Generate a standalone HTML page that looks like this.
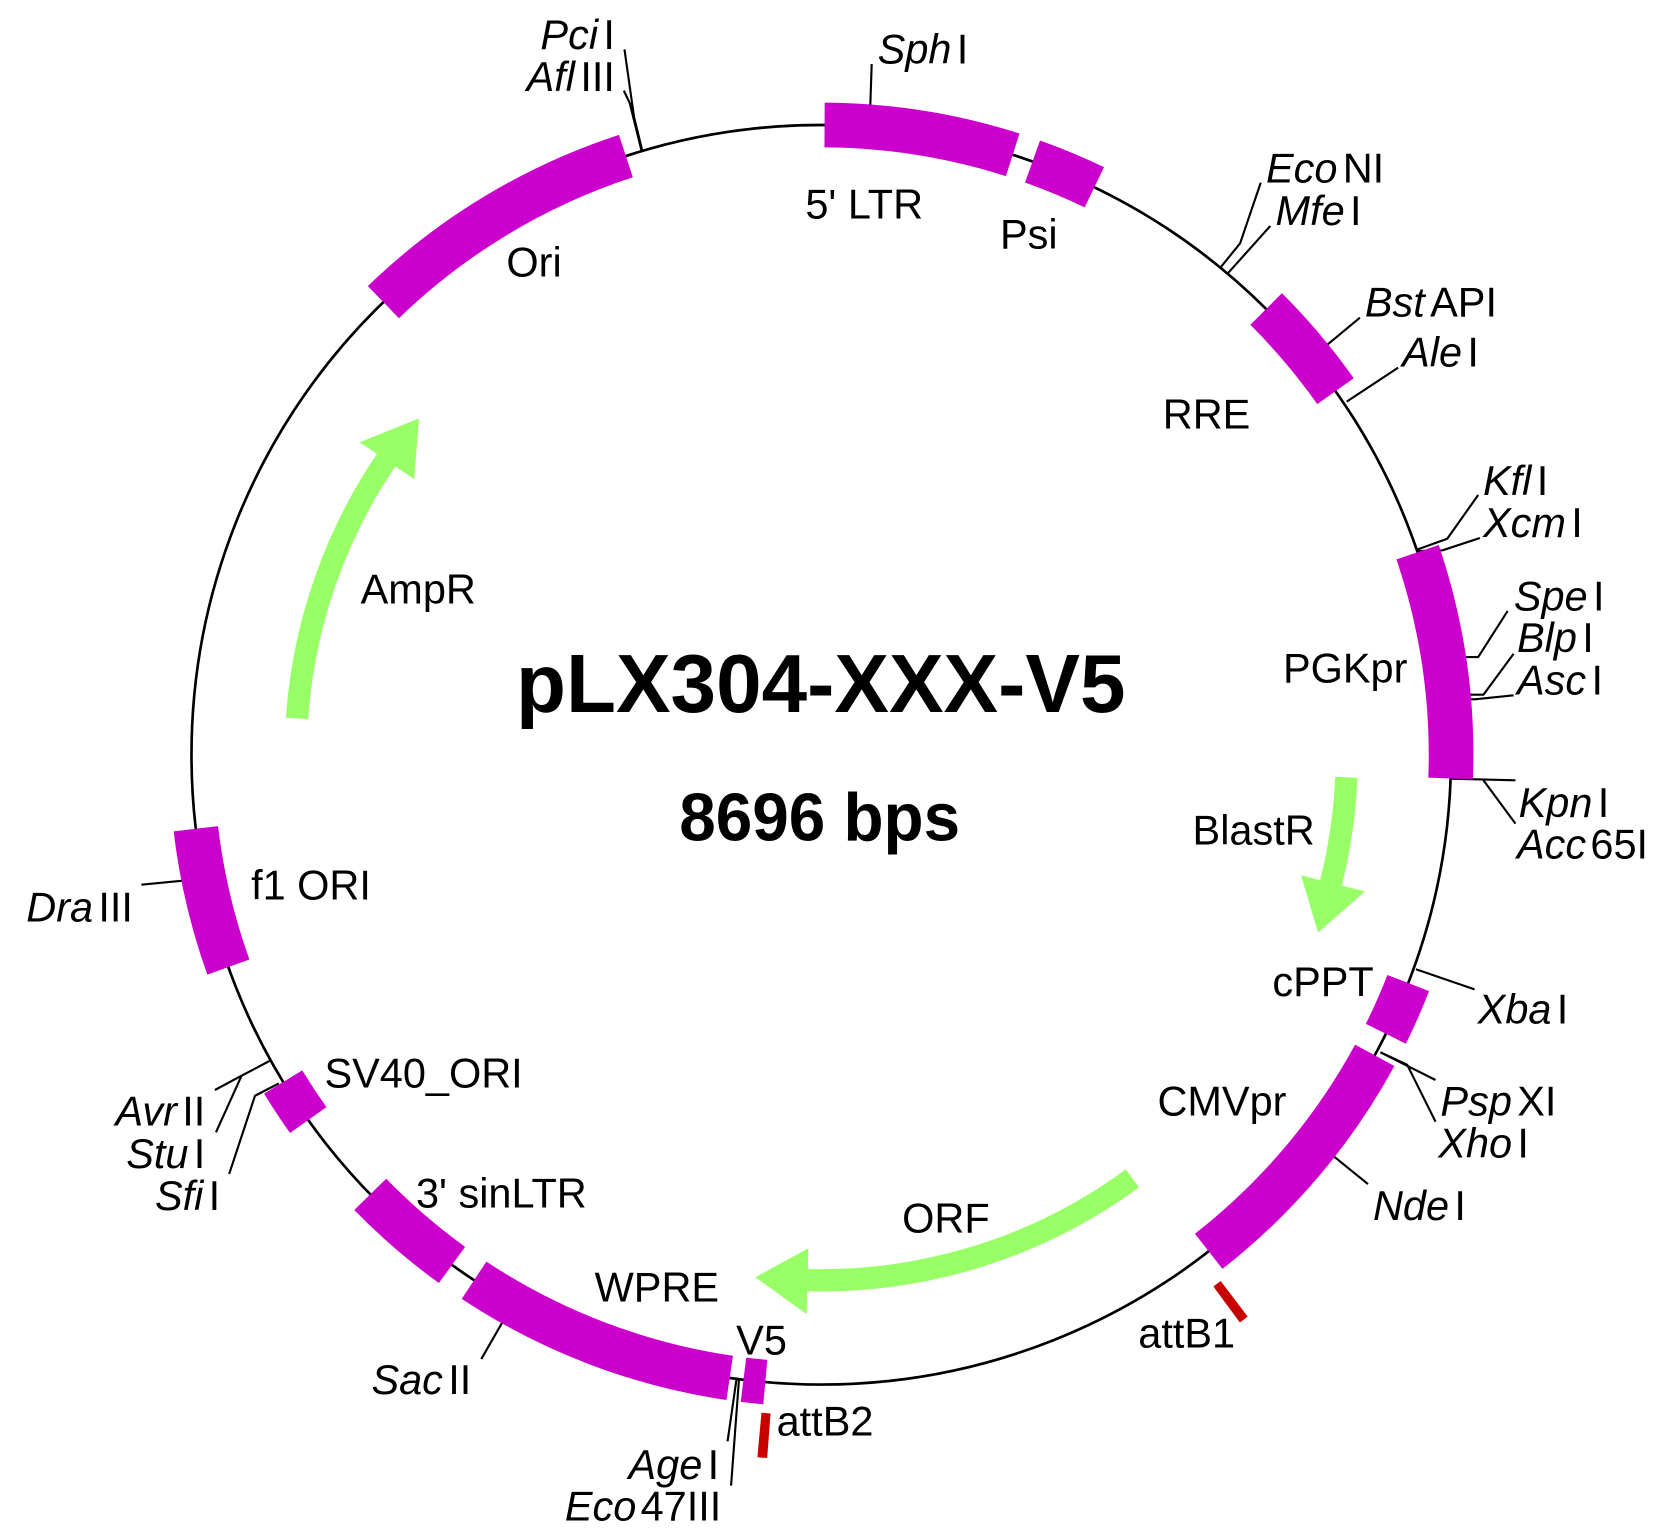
<!DOCTYPE html>
<html><head><meta charset="utf-8"><style>
html,body{margin:0;padding:0;background:#fff;width:1671px;height:1536px;overflow:hidden;position:relative;}
svg{display:block;position:absolute;left:0;top:0;}
text{font-family:"Liberation Sans",Arial,sans-serif;fill:#000;}
</style></head><body>
<svg width="1671" height="1536" viewBox="0 0 1570.74 1443.84" preserveAspectRatio="none" overflow="hidden" xmlns="http://www.w3.org/2000/svg">
<rect x="0" y="0" width="1570.74" height="1443.84" fill="#fff"/>

<!-- enzyme lines -->
<g stroke="#000" stroke-width="2" fill="none" stroke-linejoin="round">
<path d="M603.7,141.6 L596,110 L587,46.4"/>
<path d="M603,141.6 L592,97 L586.4,85.2"/>
<path d="M817.4,119 L819.4,60.2"/>
<path d="M1148,250.6 L1165.7,228.7 L1185.1,171.7"/>
<path d="M1154.7,256.3 L1194.1,212.4"/>
<path d="M1232,337 L1278.3,298.6"/>
<path d="M1265.9,377.5 L1314.3,345.6"/>
<path d="M1331.7,516.8 L1360.4,506.4 L1389.5,465.3"/>
<path d="M1333,518 L1356,517.3 L1391.1,505.7"/>
<path d="M1357,617.6 L1389.5,617.6 L1417.2,574.3"/>
<path d="M1361.3,653 L1394.5,653 L1422.8,614.5"/>
<path d="M1361.3,657 L1386.1,657.4 L1422.8,653.6"/>
<path d="M1363.6,732 L1424.5,733.5"/>
<path d="M1394.5,733.5 L1424.5,774.2"/>
<path d="M1331,911.1 L1386.1,930"/>
<path d="M1297.6,989.2 L1349.4,1015.2"/>
<path d="M1297.6,989.2 L1322.7,1000.8 L1349.4,1054.4"/>
<path d="M1238,1074.2 L1285.9,1113"/>
<path d="M481.6,1226.6 L452.4,1277.5"/>
<path d="M692.2,1297.2 L683.9,1354.9"/>
<path d="M694.6,1297.2 L687.2,1396.5"/>
<path d="M253.8,997.1 L227.1,1011.2 L202,1024.6"/>
<path d="M227.1,1011.2 L203,1064.4"/>
<path d="M262.1,1018.4 L239.7,1030 L215.4,1103.6"/>
<path d="M191.3,826 L132.9,831.6"/>
</g>

<!-- backbone -->
<circle cx="772" cy="709.5" r="592" fill="none" stroke="#000" stroke-width="2.5"/>

<!-- feature blocks -->
<g fill="none" stroke="#CC00CC" stroke-width="42">
<circle cx="772" cy="709.5" r="592" pathLength="360" stroke-dasharray="17.4 400" transform="rotate(-89.7 772 709.5)"/>
<circle cx="772" cy="709.5" r="592" pathLength="360" stroke-dasharray="6.1 400" transform="rotate(-70.4 772 709.5)"/>
<circle cx="772" cy="709.5" r="592" pathLength="360" stroke-dasharray="25.98 400" transform="rotate(225.95 772 709.5)"/>
<circle cx="772" cy="709.5" r="592" pathLength="360" stroke-dasharray="9.8 400" transform="rotate(-45.06 772 709.5)"/>
<circle cx="772" cy="709.5" r="592" pathLength="360" stroke-dasharray="20.92 400" transform="rotate(-18.76 772 709.5)"/>
<circle cx="772" cy="709.5" r="592" pathLength="360" stroke-dasharray="5.05 400" transform="rotate(21.25 772 709.5)"/>
<circle cx="772" cy="709.5" r="592" pathLength="360" stroke-dasharray="23.54 400" transform="rotate(28.5 772 709.5)"/>
<circle cx="772" cy="709.5" r="592" pathLength="360" stroke-dasharray="2.0 400" transform="rotate(95.1 772 709.5)"/>
<circle cx="772" cy="709.5" r="592" pathLength="360" stroke-dasharray="25.1 400" transform="rotate(98.36 772 709.5)"/>
<circle cx="772" cy="709.5" r="592" pathLength="360" stroke-dasharray="9.84 400" transform="rotate(125.9 772 709.5)"/>
<circle cx="772" cy="709.5" r="592" pathLength="360" stroke-dasharray="4.15 400" transform="rotate(144.55 772 709.5)"/>
<circle cx="772" cy="709.5" r="592" pathLength="360" stroke-dasharray="12.96 400" transform="rotate(160.3 772 709.5)"/>
</g>

<!-- attB sites -->
<g fill="none" stroke="#C80000" stroke-width="42">
<circle cx="772" cy="709.5" r="642" pathLength="360" stroke-dasharray="0.8 400" transform="rotate(52.8 772 709.5)"/>
<circle cx="772" cy="709.5" r="642" pathLength="360" stroke-dasharray="0.8 400" transform="rotate(94.4 772 709.5)"/>
</g>

<!-- green arrows -->
<g fill="none" stroke="#99FF66" stroke-width="21">
<circle cx="772" cy="709.5" r="494" pathLength="360" stroke-dasharray="30.5 400" transform="rotate(183.96 772 709.5)"/>
<circle cx="772" cy="709.5" r="494" pathLength="360" stroke-dasharray="12.0 400" transform="rotate(2.45 772 709.5)"/>
<circle cx="772" cy="709.5" r="494" pathLength="360" stroke-dasharray="38.1 400" transform="rotate(53.7 772 709.5)"/>
</g>
<g fill="#99FF66">
<polygon points="389.4,450.5 338.1,415.7 393.8,393.3"/>
<polygon points="1223,822.8 1283.1,837.9 1239,876.7"/>
<polygon points="759.9,1173.3 758.2,1235.3 710,1200.6"/>
</g>

<!-- title -->
<text x="771.5" y="669.3" font-size="78" font-weight="bold" text-anchor="middle" textLength="573" lengthAdjust="spacingAndGlyphs">pLX304-XXX-V5</text>
<text x="770.5" y="790" font-size="64" font-weight="bold" text-anchor="middle" textLength="264" lengthAdjust="spacingAndGlyphs">8696 bps</text>

<!-- feature labels -->
<g font-size="39">
<text x="757" y="205.2">5' LTR</text>
<text x="940" y="233.4">Psi</text>
<text x="476" y="260">Ori</text>
<text x="1093" y="402.6">RRE</text>
<text x="1206" y="641.7">PGKpr</text>
<text x="1121" y="794">BlastR</text>
<text x="1196" y="936.2">cPPT</text>
<text x="1088" y="1048.8">CMVpr</text>
<text x="848" y="1158.4">ORF</text>
<text x="559" y="1223.3">WPRE</text>
<text x="692" y="1273.4">V5</text>
<text x="730" y="1349.5">attB2</text>
<text x="1070" y="1266.5">attB1</text>
<text x="391" y="1134.9">3' sinLTR</text>
<text x="305" y="1022.1">SV40_ORI</text>
<text x="236" y="845.4">f1 ORI</text>
<text x="339" y="567.5">AmpR</text>
</g>

<!-- enzyme labels, right side -->
<g font-size="39">
<text x="825" y="59.5"><tspan font-style="italic">Sph</tspan><tspan dx="5">I</tspan></text>
<text x="1190" y="171.7"><tspan font-style="italic">Eco</tspan><tspan dx="5">NI</tspan></text>
<text x="1199" y="211.5"><tspan font-style="italic">Mfe</tspan><tspan dx="5">I</tspan></text>
<text x="1283" y="297.6"><tspan font-style="italic">Bst</tspan><tspan dx="5">API</tspan></text>
<text x="1318" y="344.6"><tspan font-style="italic">Ale</tspan><tspan dx="5">I</tspan></text>
<text x="1394" y="465.3"><tspan font-style="italic">Kfl</tspan><tspan dx="5">I</tspan></text>
<text x="1394" y="504.8"><tspan font-style="italic">Xcm</tspan><tspan dx="5">I</tspan></text>
<text x="1423" y="573.7"><tspan font-style="italic">Spe</tspan><tspan dx="5">I</tspan></text>
<text x="1426" y="612.9"><tspan font-style="italic">Blp</tspan><tspan dx="5">I</tspan></text>
<text x="1426" y="653"><tspan font-style="italic">Asc</tspan><tspan dx="5">I</tspan></text>
<text x="1427.5" y="768"><tspan font-style="italic">Kpn</tspan><tspan dx="5">I</tspan></text>
<text x="1426" y="807"><tspan font-style="italic">Acc</tspan><tspan dx="4">65I</tspan></text>
<text x="1389" y="962"><tspan font-style="italic">Xba</tspan><tspan dx="5">I</tspan></text>
<text x="1354" y="1048.8"><tspan font-style="italic">Psp</tspan><tspan dx="5">XI</tspan></text>
<text x="1352" y="1087.9"><tspan font-style="italic">Xho</tspan><tspan dx="5">I</tspan></text>
<text x="1290.6" y="1146.8"><tspan font-style="italic">Nde</tspan><tspan dx="5">I</tspan></text>
</g>

<!-- enzyme labels, left side -->
<g font-size="39" text-anchor="end">
<text x="578" y="46"><tspan font-style="italic">Pci</tspan><tspan dx="5">I</tspan></text>
<text x="578" y="85.5"><tspan font-style="italic">Afl</tspan><tspan dx="5">III</tspan></text>
<text x="193" y="1058"><tspan font-style="italic">Avr</tspan><tspan dx="5">II</tspan></text>
<text x="193" y="1098"><tspan font-style="italic">Stu</tspan><tspan dx="5">I</tspan></text>
<text x="207" y="1137.4"><tspan font-style="italic">Sfi</tspan><tspan dx="5">I</tspan></text>
<text x="125" y="866"><tspan font-style="italic">Dra</tspan><tspan dx="5">III</tspan></text>
<text x="443" y="1310.4"><tspan font-style="italic">Sac</tspan><tspan dx="5">II</tspan></text>
<text x="676" y="1390.3"><tspan font-style="italic">Age</tspan><tspan dx="5">I</tspan></text>
<text x="678" y="1429.4"><tspan font-style="italic">Eco</tspan><tspan dx="4">47III</tspan></text>
</g>
</svg>
</body></html>
